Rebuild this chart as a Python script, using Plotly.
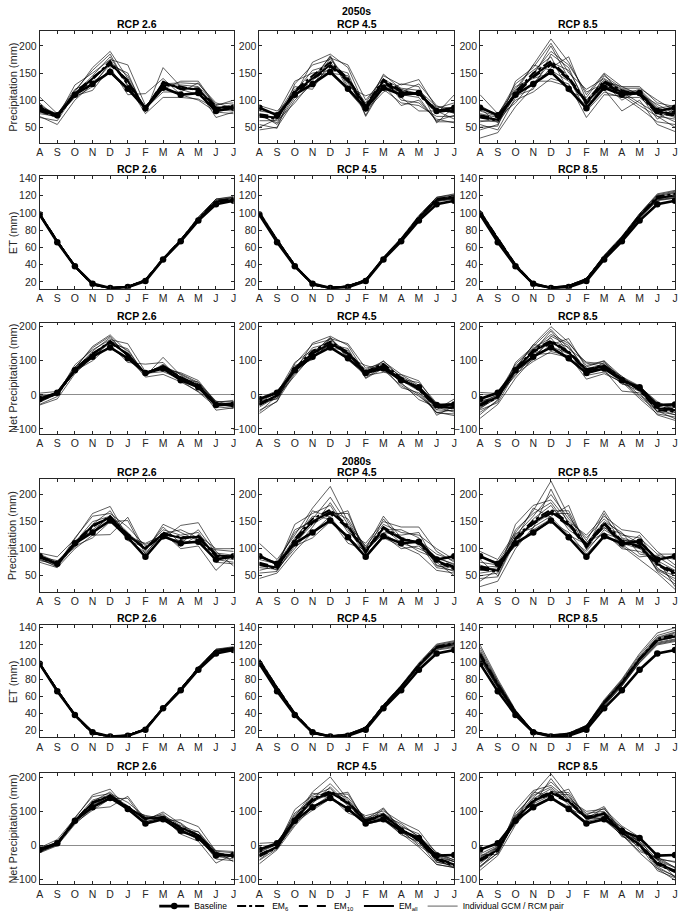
import plotly.graph_objects as go
from plotly.subplots import make_subplots

# ---------------- DATA ----------------
MONTHS = ["A", "S", "O", "N", "D", "J", "F", "M", "A", "M", "J", "J"]
RCPS = ["RCP 2.6", "RCP 4.5", "RCP 8.5"]
PERIODS = ["2050s", "2080s"]
YLABELS = ["Precipitation (mm)", "ET (mm)", "Net Precipitation (mm)"]

P_BASE = [86, 72, 110, 130, 152, 121, 85, 123, 110, 113, 80, 86]
ET_BASE = [98, 66, 38, 18, 13, 14, 21, 46, 67, 91, 110, 114]
NET_BASE = [-12, 6, 72, 112, 139, 107, 64, 77, 43, 22, -30, -28]

# ensemble means per panel: [EM6, EM10, EMall]
p50_26_em = [[80, 69, 110, 138, 172, 130, 86, 128, 125, 118, 84, 88],
             [84, 71, 114, 142, 165, 137, 83, 134, 120, 122, 88, 86],
             [82, 70, 112, 140, 168, 135, 84, 132, 122, 120, 86, 87]]
p50_26_ind = [[106, 75, 115, 160, 190, 140, 80, 135, 120, 110, 82, 80],
              [70, 55, 100, 130, 165, 150, 78, 160, 125, 118, 68, 78],
              [78, 68, 128, 150, 175, 165, 90, 120, 135, 135, 90, 100],
              [85, 72, 108, 118, 160, 110, 112, 140, 110, 100, 78, 75],
              [68, 62, 112, 145, 180, 128, 75, 105, 105, 102, 85, 92],
              [90, 74, 120, 135, 150, 118, 88, 130, 132, 130, 95, 85],
              [75, 70, 105, 125, 170, 145, 82, 128, 128, 125, 92, 95],
              [95, 66, 118, 155, 185, 125, 85, 115, 115, 132, 88, 82]]

p50_45_em = [[70, 65, 118, 145, 170, 140, 90, 138, 118, 110, 78, 82],
             [74, 69, 112, 138, 162, 135, 86, 132, 112, 115, 82, 78],
             [72, 67, 115, 140, 165, 138, 88, 135, 115, 112, 80, 80]]
p50_45_ind = [[90, 80, 110, 170, 185, 160, 85, 148, 120, 112, 75, 110],
              [45, 50, 100, 130, 160, 150, 72, 130, 110, 105, 60, 60],
              [55, 48, 130, 165, 175, 140, 95, 145, 128, 138, 85, 95],
              [62, 62, 95, 135, 182, 125, 108, 120, 95, 90, 70, 70],
              [80, 75, 135, 150, 155, 118, 80, 115, 130, 125, 58, 88],
              [68, 70, 120, 125, 178, 165, 100, 140, 100, 95, 65, 58],
              [75, 55, 105, 145, 150, 145, 70, 125, 115, 130, 90, 75],
              [85, 72, 125, 120, 170, 130, 92, 135, 105, 80, 80, 65],
              [50, 65, 115, 155, 165, 135, 78, 138, 122, 118, 88, 85],
              [72, 58, 110, 140, 180, 120, 88, 128, 90, 100, 62, 72]]

p50_85_em = [[68, 62, 115, 150, 172, 142, 98, 135, 118, 110, 75, 72],
             [72, 66, 110, 142, 165, 138, 93, 130, 112, 114, 80, 78],
             [70, 64, 112, 145, 168, 140, 95, 132, 115, 112, 78, 75]]
p50_85_ind = [[110, 75, 120, 165, 213, 170, 110, 150, 125, 125, 95, 88],
              [30, 40, 88, 125, 160, 180, 100, 120, 80, 100, 55, 42],
              [50, 52, 135, 160, 205, 150, 120, 140, 120, 115, 70, 65],
              [62, 60, 100, 115, 140, 130, 68, 110, 108, 85, 60, 55],
              [80, 70, 125, 140, 150, 120, 90, 145, 122, 122, 100, 80],
              [55, 45, 105, 150, 190, 165, 115, 130, 100, 118, 85, 90],
              [75, 68, 95, 135, 135, 125, 85, 125, 115, 95, 75, 60],
              [90, 72, 130, 155, 180, 115, 105, 148, 110, 120, 88, 70],
              [45, 55, 110, 130, 170, 155, 95, 135, 125, 110, 65, 85],
              [68, 62, 118, 145, 200, 140, 80, 115, 105, 105, 78, 68],
              [85, 58, 115, 165, 155, 135, 100, 138, 118, 112, 92, 75],
              [60, 65, 108, 120, 185, 160, 88, 128, 112, 90, 70, 50]]

et50_26_em = [[98, 67, 38, 17, 13, 14, 22, 46, 68, 93, 113, 116],
              [99, 67, 38, 17, 13, 14, 22, 47, 68, 93, 114, 116],
              [98, 67, 38, 17, 13, 14, 22, 46, 68, 92, 113, 115]]
et50_26_ind = [[99, 68, 39, 17, 13, 15, 22, 47, 69, 95, 116, 119],
               [97, 66, 38, 17, 13, 14, 21, 46, 67, 92, 112, 115],
               [98, 67, 38, 17, 13, 14, 22, 47, 68, 94, 115, 117],
               [99, 67, 39, 18, 13, 14, 22, 46, 68, 93, 114, 118],
               [98, 66, 38, 17, 12, 14, 21, 46, 67, 92, 113, 114],
               [100, 68, 39, 18, 13, 15, 23, 48, 69, 95, 116, 118]]

et50_45_em = [[100, 68, 39, 17, 13, 15, 22, 47, 69, 95, 116, 119],
              [99, 68, 39, 17, 13, 15, 22, 47, 69, 94, 115, 118],
              [99, 68, 39, 17, 13, 15, 22, 47, 69, 94, 115, 118]]
et50_45_ind = [[101, 69, 40, 18, 13, 15, 23, 48, 70, 96, 118, 122],
               [98, 67, 38, 17, 13, 14, 22, 46, 68, 93, 113, 116],
               [100, 68, 39, 17, 13, 15, 22, 47, 69, 95, 117, 120],
               [99, 67, 39, 17, 12, 14, 22, 47, 68, 93, 114, 117],
               [102, 70, 40, 18, 14, 15, 23, 49, 71, 97, 118, 121],
               [98, 67, 38, 17, 13, 14, 21, 46, 68, 94, 115, 117],
               [100, 69, 39, 18, 13, 15, 22, 48, 70, 95, 116, 119],
               [99, 68, 39, 17, 13, 14, 22, 47, 69, 94, 114, 116]]

et50_85_em = [[101, 70, 40, 18, 13, 15, 23, 49, 71, 97, 119, 122],
              [100, 69, 39, 17, 13, 15, 23, 48, 70, 96, 117, 120],
              [100, 69, 39, 17, 13, 15, 23, 48, 70, 96, 117, 120]]
et50_85_ind = [[103, 71, 41, 18, 14, 16, 24, 50, 72, 99, 121, 125],
               [99, 68, 39, 17, 13, 15, 22, 47, 69, 94, 114, 117],
               [101, 70, 40, 18, 13, 15, 23, 49, 71, 97, 119, 123],
               [100, 69, 39, 17, 13, 14, 22, 48, 70, 95, 116, 119],
               [102, 70, 40, 18, 14, 16, 24, 50, 72, 98, 120, 124],
               [99, 68, 38, 17, 13, 14, 22, 47, 69, 95, 115, 118],
               [101, 69, 40, 18, 13, 15, 23, 49, 71, 97, 118, 121],
               [100, 69, 39, 17, 13, 15, 23, 48, 70, 96, 117, 120],
               [103, 71, 41, 18, 14, 16, 24, 51, 73, 99, 122, 126],
               [98, 67, 38, 17, 13, 14, 22, 46, 68, 94, 115, 117]]

net50_26_em = [[-16, 3, 70, 118, 158, 116, 64, 82, 52, 26, -28, -27],
               [-13, 5, 74, 122, 152, 120, 61, 86, 48, 30, -26, -29],
               [-15, 4, 72, 120, 155, 118, 62, 84, 50, 28, -27, -28]]
net50_26_ind = [[5, 10, 78, 142, 176, 125, 58, 90, 52, 18, -28, -35],
                [-30, -12, 62, 112, 152, 135, 55, 110, 57, 26, -45, -38],
                [-20, 2, 88, 132, 162, 150, 68, 75, 65, 42, -22, -16],
                [-12, 4, 70, 100, 146, 95, 90, 95, 42, 8, -35, -40],
                [-28, -5, 75, 128, 168, 112, 52, 60, 38, 10, -28, -22],
                [-8, 7, 82, 118, 138, 104, 66, 84, 62, 36, -18, -32],
                [-22, 3, 66, 108, 158, 130, 60, 82, 60, 32, -20, -20],
                [-2, -2, 80, 138, 172, 110, 63, 68, 46, 38, -25, -36]]

net50_45_em = [[-30, -3, 78, 128, 156, 125, 68, 91, 49, 15, -37, -36],
               [-25, 1, 73, 121, 148, 120, 64, 85, 43, 21, -33, -40],
               [-27, -2, 75, 122, 150, 122, 65, 85, 45, 18, -35, -38]]
net50_45_ind = [[-10, 12, 70, 152, 172, 145, 62, 100, 50, 16, -43, -12],
                [-55, -18, 62, 113, 147, 136, 50, 84, 42, 12, -53, -56],
                [-45, -20, 91, 148, 162, 125, 73, 98, 60, 41, -32, -25],
                [-36, -5, 56, 118, 169, 110, 86, 73, 27, -4, -44, -47],
                [-20, 5, 95, 132, 141, 103, 57, 66, 59, 28, -60, -33],
                [-30, 2, 81, 108, 165, 150, 78, 92, 32, 1, -51, -61],
                [-24, -12, 66, 128, 137, 131, 48, 78, 46, 36, -24, -41],
                [-14, 4, 86, 103, 157, 116, 70, 88, 36, -14, -36, -51],
                [-50, -3, 76, 138, 152, 121, 56, 91, 54, 24, -28, -31],
                [-27, -10, 71, 123, 167, 106, 66, 81, 21, 6, -52, -44]]

net50_85_em = [[-33, -8, 75, 132, 159, 127, 75, 86, 47, 13, -44, -50],
               [-28, -3, 71, 125, 152, 123, 70, 82, 42, 18, -37, -42],
               [-30, -5, 73, 128, 155, 125, 72, 84, 45, 16, -39, -45]]
net50_85_ind = [[7, 4, 79, 147, 200, 154, 86, 100, 53, 26, -26, -37],
                [-69, -28, 49, 108, 147, 165, 78, 73, 11, 6, -59, -75],
                [-51, -18, 95, 142, 192, 135, 96, 91, 49, 18, -49, -58],
                [-38, -9, 61, 98, 127, 115, 46, 62, 38, -11, -56, -65],
                [-22, 0, 85, 122, 136, 104, 66, 95, 50, 24, -20, -44],
                [-44, -23, 67, 133, 177, 151, 93, 83, 31, 23, -30, -28],
                [-25, -1, 56, 118, 122, 110, 62, 77, 45, -1, -41, -59],
                [-10, 3, 90, 137, 167, 100, 82, 99, 39, 23, -30, -51],
                [-58, -14, 72, 113, 157, 140, 73, 86, 55, 12, -51, -36],
                [-32, -6, 79, 128, 187, 125, 57, 67, 35, 10, -38, -52],
                [-16, -11, 75, 147, 142, 120, 77, 89, 47, 14, -23, -46],
                [-41, -4, 69, 103, 172, 145, 65, 80, 42, -6, -47, -70]]

p80_26_em = [[84, 71, 108, 140, 160, 124, 102, 126, 122, 120, 86, 86],
             [86, 73, 111, 144, 156, 127, 98, 130, 118, 124, 90, 84],
             [85, 72, 110, 142, 158, 125, 100, 128, 120, 122, 88, 85]]
p80_26_ind = [[92, 85, 118, 165, 178, 120, 110, 125, 105, 125, 100, 100],
              [75, 65, 100, 125, 126, 158, 95, 145, 130, 115, 80, 75],
              [88, 70, 120, 160, 165, 140, 105, 118, 143, 148, 95, 68],
              [80, 68, 105, 120, 150, 152, 90, 130, 100, 105, 60, 90],
              [90, 75, 112, 150, 160, 115, 102, 135, 125, 130, 85, 80],
              [78, 72, 108, 135, 158, 125, 108, 120, 115, 110, 98, 95],
              [85, 78, 102, 145, 170, 118, 92, 128, 135, 120, 75, 72],
              [82, 66, 115, 130, 162, 130, 98, 140, 110, 135, 92, 88]]

p80_45_em = [[70, 63, 118, 155, 172, 142, 97, 140, 120, 110, 76, 62],
             [74, 66, 113, 148, 165, 138, 93, 136, 116, 114, 80, 67],
             [72, 65, 115, 150, 168, 140, 95, 138, 118, 112, 78, 65]]
p80_45_ind = [[110, 80, 125, 175, 215, 150, 100, 160, 120, 110, 65, 60],
              [45, 55, 95, 130, 160, 170, 88, 125, 100, 105, 75, 50],
              [60, 68, 145, 165, 180, 130, 110, 150, 140, 140, 95, 75],
              [75, 60, 105, 120, 150, 125, 85, 120, 105, 90, 60, 55],
              [85, 75, 130, 155, 195, 145, 105, 145, 130, 125, 100, 80],
              [55, 58, 110, 145, 165, 165, 92, 140, 110, 100, 85, 70],
              [80, 72, 120, 160, 155, 110, 98, 130, 125, 130, 70, 58],
              [65, 62, 100, 140, 185, 135, 90, 155, 115, 95, 82, 72],
              [90, 70, 135, 150, 170, 155, 102, 135, 135, 120, 68, 65],
              [70, 65, 112, 170, 158, 120, 95, 128, 108, 115, 90, 78]]

p80_85_em = [[62, 58, 120, 152, 172, 148, 108, 148, 115, 102, 70, 52],
             [67, 62, 116, 146, 165, 143, 103, 143, 110, 107, 74, 57],
             [65, 60, 118, 148, 168, 145, 105, 145, 112, 105, 72, 55]]
p80_85_ind = [[95, 80, 130, 170, 225, 160, 115, 170, 120, 110, 60, 45],
              [30, 40, 100, 140, 160, 180, 100, 130, 100, 95, 80, 30],
              [50, 55, 145, 180, 190, 150, 125, 160, 135, 130, 95, 70],
              [60, 65, 110, 130, 150, 130, 90, 125, 105, 80, 55, 25],
              [85, 75, 125, 160, 200, 155, 120, 155, 125, 120, 90, 90],
              [45, 48, 115, 150, 170, 170, 105, 140, 110, 100, 78, 60],
              [75, 70, 105, 135, 155, 120, 95, 135, 115, 115, 65, 40],
              [55, 60, 135, 165, 185, 140, 110, 150, 130, 90, 85, 65],
              [80, 50, 120, 145, 165, 165, 98, 148, 102, 125, 70, 55],
              [40, 62, 108, 155, 180, 135, 112, 128, 118, 105, 62, 50],
              [70, 58, 128, 138, 210, 145, 102, 165, 108, 85, 88, 80],
              [65, 68, 118, 175, 158, 125, 108, 138, 128, 110, 58, 35]]

et80_26_em = [[98, 67, 38, 17, 13, 14, 22, 46, 68, 92, 113, 116],
              [98, 67, 38, 17, 13, 14, 22, 46, 68, 93, 113, 116],
              [98, 67, 38, 17, 13, 14, 22, 46, 68, 92, 113, 116]]
et80_26_ind = [[99, 68, 39, 17, 13, 15, 22, 47, 69, 94, 115, 118],
               [97, 66, 38, 17, 13, 14, 21, 46, 67, 92, 112, 115],
               [98, 67, 38, 17, 13, 14, 22, 46, 68, 93, 114, 117],
               [99, 67, 39, 18, 13, 14, 22, 47, 68, 93, 113, 116],
               [98, 66, 38, 17, 12, 14, 21, 46, 67, 91, 112, 114],
               [99, 68, 39, 18, 13, 15, 22, 47, 69, 94, 115, 117]]

et80_45_em = [[102, 70, 40, 18, 13, 15, 23, 49, 71, 97, 118, 122],
              [101, 69, 39, 17, 13, 15, 23, 48, 71, 96, 117, 121],
              [101, 69, 39, 17, 13, 15, 23, 48, 71, 96, 117, 121]]
et80_45_ind = [[104, 71, 41, 18, 14, 16, 24, 50, 73, 99, 121, 125],
               [99, 68, 38, 17, 13, 14, 22, 47, 69, 94, 114, 117],
               [102, 70, 40, 18, 13, 15, 23, 49, 72, 97, 119, 123],
               [100, 68, 39, 17, 13, 14, 22, 47, 70, 95, 116, 119],
               [103, 71, 40, 18, 14, 16, 24, 50, 72, 98, 120, 124],
               [99, 68, 39, 17, 13, 15, 22, 47, 70, 95, 115, 118],
               [101, 69, 40, 18, 13, 15, 23, 48, 71, 96, 118, 122],
               [100, 69, 39, 17, 13, 15, 23, 48, 70, 96, 116, 120]]

et80_85_em = [[110, 74, 42, 18, 14, 16, 25, 53, 76, 104, 127, 132],
              [108, 73, 41, 18, 14, 16, 24, 52, 75, 103, 125, 130],
              [108, 73, 41, 18, 14, 16, 24, 52, 75, 103, 125, 130]]
et80_85_ind = [[120, 80, 44, 19, 15, 17, 26, 56, 80, 110, 134, 140],
               [103, 70, 40, 18, 13, 15, 23, 49, 72, 99, 120, 124],
               [114, 77, 43, 19, 14, 16, 25, 54, 78, 106, 129, 135],
               [106, 72, 41, 18, 14, 15, 24, 51, 74, 102, 123, 127],
               [117, 78, 43, 19, 15, 17, 26, 55, 79, 108, 131, 137],
               [105, 71, 40, 18, 13, 15, 23, 50, 73, 100, 122, 126],
               [110, 75, 42, 18, 14, 16, 25, 53, 76, 104, 127, 132],
               [108, 73, 41, 18, 14, 16, 24, 52, 75, 103, 125, 129],
               [112, 76, 42, 19, 14, 16, 25, 54, 77, 105, 128, 134],
               [104, 70, 40, 17, 13, 15, 23, 49, 72, 100, 121, 125]]

net80_26_em = [[-14, 4, 70, 123, 147, 110, 80, 80, 54, 28, -27, -30],
               [-12, 6, 73, 127, 143, 113, 76, 84, 50, 31, -23, -32],
               [-13, 5, 72, 125, 145, 111, 78, 82, 52, 30, -25, -31]]
net80_26_ind = [[-7, 17, 79, 148, 165, 105, 88, 78, 36, 31, -15, -18],
                [-22, -1, 62, 108, 113, 144, 74, 98, 63, 23, -32, -40],
                [-10, 3, 82, 143, 152, 126, 83, 72, 75, 55, -18, -48],
                [-19, 2, 66, 103, 137, 138, 68, 84, 33, 12, -52, -26],
                [-8, 9, 74, 133, 148, 101, 81, 89, 58, 39, -27, -34],
                [-21, 5, 70, 118, 145, 111, 86, 73, 46, 16, -17, -22],
                [-14, 11, 64, 128, 157, 104, 70, 82, 66, 26, -40, -45],
                [-17, 0, 77, 113, 149, 116, 76, 93, 42, 41, -21, -29]]

net80_45_em = [[-32, -7, 78, 137, 159, 127, 74, 91, 49, 13, -42, -60],
               [-27, -3, 74, 131, 152, 123, 70, 88, 45, 18, -37, -54],
               [-29, -4, 76, 133, 155, 125, 72, 90, 47, 16, -39, -56]]
net80_45_ind = [[6, 9, 84, 157, 201, 134, 76, 110, 47, 11, -56, -65],
                [-54, -13, 57, 113, 147, 156, 66, 78, 31, 11, -39, -67],
                [-42, -2, 105, 147, 167, 115, 87, 101, 68, 43, -24, -48],
                [-25, -8, 66, 103, 137, 110, 62, 73, 35, -5, -56, -65],
                [-18, 4, 90, 137, 181, 129, 81, 95, 58, 27, -20, -44],
                [-44, -10, 71, 128, 152, 150, 70, 93, 40, 5, -30, -48],
                [-21, 3, 81, 143, 142, 95, 75, 82, 54, 34, -48, -62],
                [-35, -6, 61, 123, 172, 120, 67, 107, 45, -1, -34, -48],
                [-11, 1, 95, 133, 157, 140, 79, 87, 64, 24, -50, -57],
                [-31, -4, 73, 153, 145, 105, 72, 80, 37, 19, -26, -42]]

net80_85_em = [[-46, -16, 77, 133, 158, 132, 83, 95, 38, -2, -55, -78],
               [-40, -11, 74, 128, 151, 127, 78, 91, 35, 4, -50, -70],
               [-43, -13, 76, 130, 154, 129, 80, 93, 37, 2, -52, -74]]
net80_85_ind = [[-25, 0, 86, 151, 210, 143, 89, 114, 40, 0, -74, -95],
                [-73, -30, 60, 122, 147, 165, 77, 81, 28, -4, -40, -94],
                [-64, -22, 102, 161, 176, 134, 100, 106, 57, 24, -34, -65],
                [-46, -7, 69, 112, 136, 115, 66, 74, 31, -22, -68, -102],
                [-32, -3, 82, 141, 186, 138, 94, 100, 46, 12, -41, -47],
                [-60, -23, 75, 132, 157, 155, 82, 90, 37, 0, -44, -66],
                [-35, -5, 63, 117, 141, 104, 70, 82, 39, 11, -62, -92],
                [-53, -13, 93, 147, 171, 124, 85, 96, 53, -13, -40, -64],
                [-28, -26, 78, 127, 151, 149, 74, 94, 25, 20, -57, -79],
                [-64, -11, 68, 137, 166, 119, 88, 76, 43, 5, -59, -75],
                [-38, -15, 87, 120, 196, 129, 78, 110, 33, -18, -37, -50],
                [-43, -5, 77, 157, 144, 109, 84, 86, 53, 7, -67, -90]]

# ---------------- LAYOUT HELPERS ----------------
W, H = 682, 921
COL_PX = [(36, 232), (258, 455), (481, 678)]
ROW_PX = [(27, 140), (173, 287), (321, 433), (479, 592), (626, 739), (775, 887)]
FONT = "Liberation Sans, Arial, Helvetica, sans-serif"
INK = "#262626"

rows_spec = [
    (P_BASE, [(p50_26_em, p50_26_ind), (p50_45_em, p50_45_ind), (p50_85_em, p50_85_ind)], 0),
    (ET_BASE, [(et50_26_em, et50_26_ind), (et50_45_em, et50_45_ind), (et50_85_em, et50_85_ind)], 1),
    (NET_BASE, [(net50_26_em, net50_26_ind), (net50_45_em, net50_45_ind), (net50_85_em, net50_85_ind)], 2),
    (P_BASE, [(p80_26_em, p80_26_ind), (p80_45_em, p80_45_ind), (p80_85_em, p80_85_ind)], 0),
    (ET_BASE, [(et80_26_em, et80_26_ind), (et80_45_em, et80_45_ind), (et80_85_em, et80_85_ind)], 1),
    (NET_BASE, [(net80_26_em, net80_26_ind), (net80_45_em, net80_45_ind), (net80_85_em, net80_85_ind)], 2),
]
Y_RANGES = [[21, 228], [12, 143], [-114, 212]]
Y_TICKS = [[50, 100, 150, 200], [20, 40, 60, 80, 100, 120, 140], [-100, 0, 100, 200]]

EM_STYLES = [("EM<sub>6</sub>", "dashdot", 2), ("EM<sub>10</sub>", "dash", 3), ("EM<sub>all</sub>", "solid", 4)]

fig = make_subplots(rows=6, cols=3)
X = list(range(12))

for r, (base, panels, vtype) in enumerate(rows_spec):
    for c, (em, ind) in enumerate(panels):
        first = (r == 0 and c == 0)
        for k, series in enumerate(ind):
            fig.add_trace(go.Scatter(
                x=X, y=series, mode="lines",
                line=dict(color="rgba(0,0,0,0.9)", width=0.7),
                name="Individual GCM / RCM pair", legendgroup="ind", legendrank=5,
                showlegend=(first and k == 0), hoverinfo="skip"), row=r + 1, col=c + 1)
        for (name, dash, rank), series in zip(EM_STYLES, em):
            fig.add_trace(go.Scatter(
                x=X, y=series, mode="lines",
                line=dict(color="black", width=2, dash=dash),
                name=name, legendgroup=name, legendrank=rank,
                showlegend=first, hoverinfo="skip"), row=r + 1, col=c + 1)
        fig.add_trace(go.Scatter(
            x=X, y=base, mode="lines+markers",
            line=dict(color="black", width=2.6),
            marker=dict(color="black", size=6.5, symbol="circle"),
            name="Baseline", legendgroup="base", legendrank=1,
            showlegend=first, hoverinfo="skip"), row=r + 1, col=c + 1)

annotations = []
for r in range(6):
    vtype = rows_spec[r][2]
    y0, y1 = ROW_PX[r]
    for c in range(3):
        i = r * 3 + c + 1
        xk = "xaxis" if i == 1 else f"xaxis{i}"
        yk = "yaxis" if i == 1 else f"yaxis{i}"
        x0, x1 = COL_PX[c]
        fig.layout[xk].update(
            domain=[x0 / W, x1 / W], range=[0, 11],
            tickmode="array", tickvals=X, ticktext=MONTHS,
            ticks="inside", ticklen=3, tickwidth=0.8, tickcolor=INK,
            showline=True, linecolor=INK, linewidth=0.8, mirror="ticks",
            showgrid=False, zeroline=False,
            tickfont=dict(family=FONT, size=10.5, color=INK))
        fig.layout[yk].update(
            domain=[1 - y1 / H, 1 - y0 / H], range=Y_RANGES[vtype],
            tickmode="array", tickvals=Y_TICKS[vtype],
            ticks="inside", ticklen=3, tickwidth=0.8, tickcolor=INK,
            showline=True, linecolor=INK, linewidth=0.8, mirror="ticks",
            showgrid=False,
            zeroline=(vtype == 2), zerolinecolor="#8c8c8c", zerolinewidth=0.8,
            tickfont=dict(family=FONT, size=10.5, color=INK))
        annotations.append(dict(
            text=f"<b>{RCPS[c]}</b>", x=(x0 + x1) / 2 / W, y=1 - (y0 - 7) / H,
            xref="paper", yref="paper", xanchor="center", yanchor="middle",
            showarrow=False, font=dict(family=FONT, size=10.5, color="black")))
    annotations.append(dict(
        text=YLABELS[vtype], x=9 / W, y=1 - ((y0 + y1) / 2) / H,
        xref="paper", yref="paper", xanchor="center", yanchor="middle",
        textangle=-90, showarrow=False, font=dict(family=FONT, size=11, color=INK)))

for p, ypx in zip(PERIODS, [7, 460]):
    annotations.append(dict(
        text=f"<b>{p}</b>", x=((COL_PX[1][0] + COL_PX[1][1]) / 2) / W, y=1 - ypx / H,
        xref="paper", yref="paper", xanchor="center", yanchor="middle",
        showarrow=False, font=dict(family=FONT, size=10.5, color="black")))

fig.update_layout(
    width=W, height=H, margin=dict(l=0, r=0, t=0, b=0),
    paper_bgcolor="white", plot_bgcolor="white",
    annotations=annotations,
    showlegend=True,
    legend=dict(orientation="h", x=0.53, y=1 - 909 / H, xanchor="center", yanchor="middle",
                font=dict(family=FONT, size=8.5, color="black"),
                bgcolor="rgba(0,0,0,0)", itemwidth=30, tracegroupgap=0,
                traceorder="normal"),
)

fig.write_html("out.html")
